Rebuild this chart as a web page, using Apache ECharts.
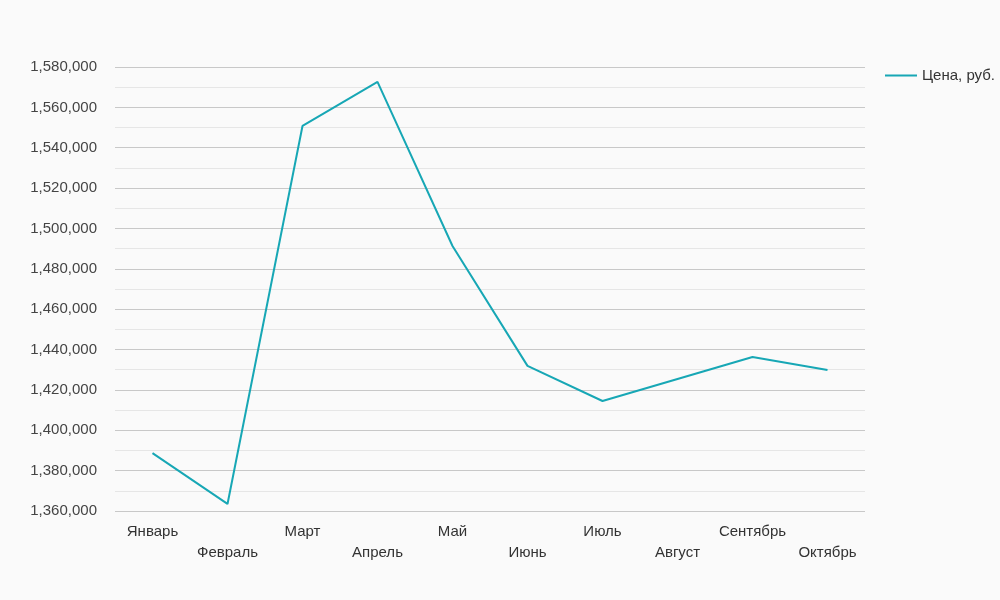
<!DOCTYPE html>
<html>
<head>
<meta charset="utf-8">
<script src="https://cdn.jsdelivr.net/npm/echarts@6/dist/echarts.min.js"></script>
<style>
html,body{margin:0;padding:0;background:#fafafa;}
#chart{width:1000px;height:600px;}
</style>
</head>
<body>
<div id="chart"></div>
<script>
var categories = ['Январь','Февраль','Март','Апрель','Май','Июнь','Июль','Август','Сентябрь','Октябрь'];
var priceValues = [1388700, 1363500, 1550800, 1572600, 1491300, 1431900, 1414500, 1425400, 1436300, 1429900];
var seriesName = 'Цена, руб.';

var chart = echarts.init(document.getElementById('chart'));
chart.setOption({
  backgroundColor: '#fafafa',
  animation: false,
  textStyle: { fontFamily: '"Liberation Sans", Arial, sans-serif' },
  legend: {
    left: 880,
    top: 63,
    orient: 'vertical',
    itemWidth: 32,
    itemHeight: 2,
    itemGap: 8,
    icon: 'rect',
    textStyle: { fontSize: 15, color: '#333' },
    data: [seriesName]
  },
  grid: { left: 115, right: 135, top: 67, bottom: 89 },
  xAxis: {
    type: 'category',
    data: categories,
    boundaryGap: true,
    axisLine: { show: false },
    axisTick: { show: false },
    axisLabel: {
      interval: 0,
      fontSize: 15,
      color: '#333',
      margin: 10,
      lineHeight: 21,
      formatter: function (v, i) { return i % 2 === 1 ? '\n' + v : v; }
    }
  },
  yAxis: {
    type: 'value',
    min: 1360000,
    max: 1580000,
    interval: 20000,
    axisLine: { show: false },
    axisTick: { show: false },
    axisLabel: {
      fontSize: 15,
      color: '#444',
      margin: 18,
      padding: [3, 0, 0, 0],
      formatter: function (v) { return v.toLocaleString('en-US'); }
    },
    splitLine: { lineStyle: { color: '#c8c8c8', width: 1 } },
    minorTick: { show: false, splitNumber: 2 },
    minorSplitLine: { show: true, lineStyle: { color: '#e6e6e6', width: 1 } }
  },
  series: [{
    name: seriesName,
    type: 'line',
    data: priceValues,
    showSymbol: false,
    symbol: 'none',
    lineStyle: { color: '#17a7b5', width: 2 },
    itemStyle: { color: '#17a7b5' }
  }]
});
</script>
</body>
</html>
